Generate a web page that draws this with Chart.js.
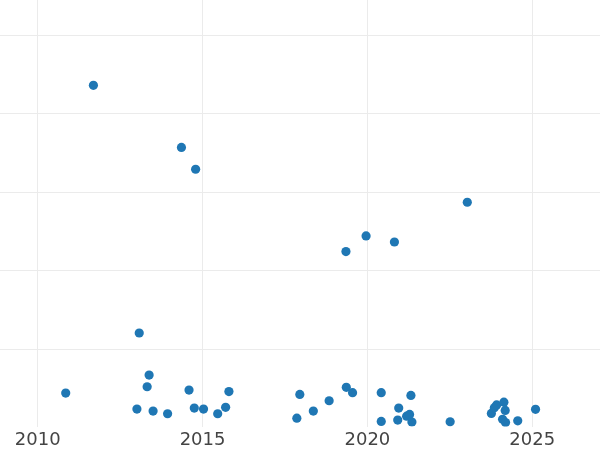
<!DOCTYPE html>
<html>
<head>
  <title>Scatter by year</title>
  <script src="https://cdn.jsdelivr.net/npm/chart.js"></script>
  <style>
    body { margin: 0; background: #fff; }
  </style>
</head>
<body>
  <canvas id="myChart" width="600" height="450"></canvas>

  <script>
    // Values (x = year, y = unlabelled value)
    var years = [
      2010.85, 2011.69, 2013.01, 2013.08, 2013.32, 2013.38, 2013.50, 2013.94,
      2014.36, 2014.59, 2014.75, 2014.79, 2015.03, 2015.46, 2015.70, 2015.80,
      2017.86, 2017.95, 2018.36, 2018.84, 2019.35, 2019.36, 2019.55, 2019.96,
      2020.42, 2020.42, 2020.82, 2020.92, 2020.95, 2021.19, 2021.28, 2021.32,
      2021.35, 2022.51, 2023.03, 2023.76, 2023.85, 2023.92, 2024.14, 2024.18,
      2024.10, 2024.19, 2024.56, 2025.10
    ];
    var values = [
      22.2, 218.0, 12.0, 60.4, 26.2, 33.6, 10.7, 9.0,
      178.5, 24.1, 12.6, 164.6, 12.0, 9.0, 13.1, 23.1,
      6.2, 21.3, 10.7, 17.3, 112.2, 25.8, 22.4, 122.2,
      22.4, 4.1, 118.3, 5.0, 12.6, 7.5, 8.6, 20.7,
      3.7, 3.9, 143.6, 9.2, 12.9, 14.6, 16.4, 11.1,
      5.5, 3.4, 4.5, 11.8
    ];
    var xTicks = [2010, 2015, 2020, 2025];
    var yGrid = [50, 100, 150, 200, 250];

    var points = years.map(function (x, i) { return { x: x, y: values[i] }; });

    var ctx = document.getElementById('myChart').getContext('2d');
    var myChart = new Chart(ctx, {
      type: 'scatter',
      data: {
        datasets: [{
          data: points,
          backgroundColor: '#1f77b4',
          borderWidth: 0,
          pointRadius: 4.6,
          pointHoverRadius: 4.6
        }]
      },
      options: {
        responsive: false,
        animation: false,
        // small negative bottom padding so the labels sit lower, like the original
        layout: { padding: { top: 0, left: 0, right: 0, bottom: -3.5 }, autoPadding: false },
        plugins: {
          legend: { display: false },
          tooltip: { enabled: false }
        },
        scales: {
          x: {
            type: 'linear',
            min: 2008.857,
            max: 2027.055,
            afterBuildTicks: function (axis) {
              axis.ticks = xTicks.map(function (v) { return { value: v }; });
            },
            grid: { color: '#ebebeb', lineWidth: 1, drawTicks: false },
            border: { display: false },
            ticks: {
              padding: 4.5,
              color: '#444',
              font: { family: 'DejaVu Sans', size: 18, lineHeight: 1 },
              maxRotation: 0,
              callback: function (v) { return String(v); }
            }
          },
          y: {
            min: 0.9,
            max: 272.3,
            afterBuildTicks: function (axis) {
              axis.ticks = yGrid.map(function (v) { return { value: v }; });
            },
            grid: { color: '#ebebeb', lineWidth: 1, drawTicks: false },
            border: { display: false },
            ticks: { display: false }
          }
        }
      }
    });
  </script>
</body>
</html>
